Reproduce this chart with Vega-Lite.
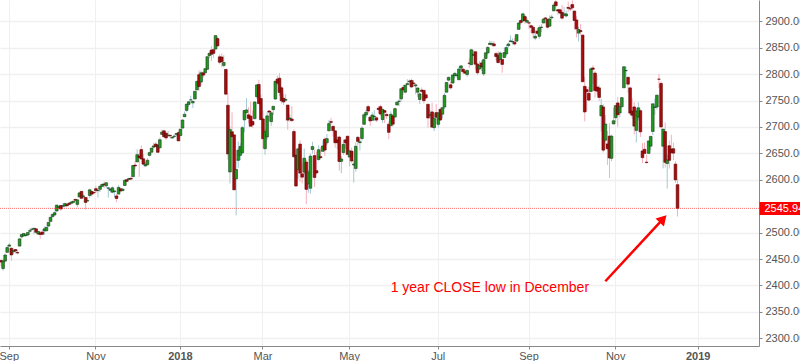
{
"$schema": "https://vega.github.io/schema/vega-lite/v6.json",
"width": 759,
"height": 346,
"autosize": "none",
"padding": {"left": 0, "top": 0, "right": 41, "bottom": 15},
"background": "#ffffff",
"config": {"view": {"stroke": null}},
"datasets": {
"ohlc": [
{"d":"2017-08-28","o":2447.35,"h":2449.12,"l":2436.19,"c":2444.24},
{"d":"2017-08-29","o":2431.94,"h":2449.19,"l":2428.20,"c":2446.30},
{"d":"2017-08-30","o":2446.06,"h":2460.31,"l":2443.77,"c":2457.59},
{"d":"2017-08-31","o":2462.65,"h":2475.01,"l":2462.65,"c":2471.65},
{"d":"2017-09-01","o":2474.42,"h":2480.38,"l":2473.85,"c":2476.55},
{"d":"2017-09-05","o":2470.35,"h":2471.97,"l":2446.55,"c":2457.85},
{"d":"2017-09-06","o":2463.83,"h":2469.64,"l":2459.20,"c":2465.54},
{"d":"2017-09-07","o":2468.06,"h":2468.62,"l":2460.29,"c":2465.10},
{"d":"2017-09-08","o":2462.25,"h":2467.11,"l":2459.40,"c":2461.43},
{"d":"2017-09-11","o":2474.52,"h":2488.95,"l":2474.52,"c":2488.11},
{"d":"2017-09-12","o":2491.94,"h":2496.77,"l":2488.72,"c":2496.48},
{"d":"2017-09-13","o":2493.89,"h":2498.37,"l":2492.14,"c":2498.37},
{"d":"2017-09-14","o":2494.56,"h":2498.43,"l":2491.35,"c":2495.62},
{"d":"2017-09-15","o":2495.67,"h":2500.23,"l":2493.16,"c":2500.23},
{"d":"2017-09-18","o":2502.51,"h":2508.32,"l":2499.92,"c":2503.87},
{"d":"2017-09-19","o":2506.29,"h":2507.84,"l":2503.19,"c":2506.65},
{"d":"2017-09-20","o":2506.84,"h":2508.85,"l":2496.67,"c":2508.24},
{"d":"2017-09-21","o":2507.16,"h":2507.16,"l":2499.00,"c":2500.60},
{"d":"2017-09-22","o":2497.26,"h":2503.47,"l":2496.54,"c":2502.22},
{"d":"2017-09-25","o":2499.39,"h":2502.54,"l":2488.03,"c":2496.66},
{"d":"2017-09-26","o":2501.04,"h":2503.51,"l":2495.12,"c":2496.84},
{"d":"2017-09-27","o":2503.30,"h":2511.75,"l":2495.91,"c":2507.04},
{"d":"2017-09-28","o":2503.41,"h":2510.81,"l":2502.93,"c":2510.06},
{"d":"2017-09-29","o":2512.40,"h":2519.44,"l":2511.30,"c":2519.36},
{"d":"2017-10-02","o":2521.20,"h":2529.23,"l":2520.40,"c":2529.12},
{"d":"2017-10-03","o":2530.34,"h":2535.13,"l":2528.85,"c":2534.58},
{"d":"2017-10-04","o":2533.48,"h":2540.53,"l":2531.80,"c":2537.74},
{"d":"2017-10-05","o":2540.86,"h":2552.51,"l":2540.02,"c":2552.07},
{"d":"2017-10-06","o":2547.44,"h":2549.41,"l":2543.79,"c":2549.33},
{"d":"2017-10-09","o":2551.39,"h":2551.82,"l":2541.60,"c":2544.73},
{"d":"2017-10-10","o":2549.99,"h":2555.23,"l":2544.86,"c":2550.64},
{"d":"2017-10-11","o":2550.62,"h":2555.24,"l":2547.95,"c":2555.24},
{"d":"2017-10-12","o":2552.88,"h":2555.33,"l":2548.31,"c":2550.93},
{"d":"2017-10-13","o":2555.66,"h":2557.65,"l":2552.09,"c":2553.17},
{"d":"2017-10-16","o":2555.57,"h":2559.47,"l":2553.24,"c":2557.64},
{"d":"2017-10-17","o":2557.17,"h":2559.71,"l":2554.69,"c":2559.36},
{"d":"2017-10-18","o":2562.87,"h":2564.11,"l":2559.67,"c":2561.26},
{"d":"2017-10-19","o":2553.39,"h":2562.36,"l":2547.92,"c":2562.10},
{"d":"2017-10-20","o":2567.56,"h":2575.44,"l":2567.56,"c":2575.21},
{"d":"2017-10-23","o":2578.08,"h":2578.29,"l":2564.33,"c":2564.98},
{"d":"2017-10-24","o":2568.66,"h":2572.18,"l":2565.58,"c":2569.13},
{"d":"2017-10-25","o":2566.52,"h":2567.40,"l":2544.00,"c":2557.15},
{"d":"2017-10-26","o":2560.08,"h":2567.07,"l":2559.80,"c":2560.40},
{"d":"2017-10-27","o":2570.26,"h":2582.98,"l":2565.94,"c":2581.07},
{"d":"2017-10-30","o":2577.75,"h":2580.03,"l":2568.25,"c":2572.83},
{"d":"2017-10-31","o":2575.99,"h":2578.29,"l":2572.15,"c":2575.26},
{"d":"2017-11-01","o":2583.21,"h":2588.40,"l":2574.92,"c":2579.36},
{"d":"2017-11-02","o":2579.46,"h":2581.11,"l":2566.17,"c":2579.85},
{"d":"2017-11-03","o":2581.93,"h":2588.42,"l":2576.77,"c":2587.84},
{"d":"2017-11-06","o":2587.47,"h":2593.38,"l":2585.66,"c":2591.13},
{"d":"2017-11-07","o":2592.11,"h":2597.02,"l":2584.35,"c":2590.64},
{"d":"2017-11-08","o":2588.71,"h":2595.47,"l":2585.02,"c":2594.38},
{"d":"2017-11-09","o":2584.00,"h":2586.50,"l":2566.33,"c":2584.62},
{"d":"2017-11-10","o":2580.18,"h":2583.81,"l":2575.57,"c":2582.30},
{"d":"2017-11-13","o":2576.53,"h":2587.66,"l":2574.48,"c":2584.84},
{"d":"2017-11-14","o":2577.75,"h":2579.66,"l":2566.56,"c":2578.87},
{"d":"2017-11-15","o":2569.45,"h":2572.84,"l":2557.45,"c":2564.62},
{"d":"2017-11-16","o":2572.95,"h":2590.09,"l":2572.95,"c":2585.64},
{"d":"2017-11-17","o":2582.94,"h":2583.96,"l":2577.62,"c":2578.85},
{"d":"2017-11-20","o":2579.49,"h":2584.64,"l":2578.24,"c":2582.14},
{"d":"2017-11-21","o":2589.17,"h":2601.19,"l":2589.17,"c":2599.03},
{"d":"2017-11-22","o":2600.31,"h":2600.94,"l":2595.23,"c":2597.08},
{"d":"2017-11-24","o":2600.42,"h":2604.21,"l":2600.42,"c":2602.42},
{"d":"2017-11-27","o":2602.66,"h":2606.41,"l":2598.87,"c":2601.42},
{"d":"2017-11-28","o":2605.94,"h":2627.69,"l":2605.44,"c":2627.04},
{"d":"2017-11-29","o":2627.82,"h":2634.89,"l":2620.32,"c":2626.07},
{"d":"2017-11-30","o":2633.93,"h":2657.74,"l":2633.93,"c":2647.58},
{"d":"2017-12-01","o":2645.10,"h":2650.62,"l":2605.52,"c":2642.22},
{"d":"2017-12-04","o":2657.19,"h":2665.19,"l":2639.03,"c":2639.44},
{"d":"2017-12-05","o":2639.78,"h":2648.72,"l":2627.73,"c":2629.57},
{"d":"2017-12-06","o":2626.24,"h":2634.41,"l":2624.75,"c":2629.27},
{"d":"2017-12-07","o":2628.38,"h":2640.99,"l":2628.38,"c":2636.98},
{"d":"2017-12-08","o":2646.21,"h":2651.65,"l":2644.10,"c":2651.50},
{"d":"2017-12-11","o":2652.19,"h":2660.33,"l":2651.47,"c":2659.99},
{"d":"2017-12-12","o":2661.73,"h":2669.72,"l":2659.78,"c":2664.11},
{"d":"2017-12-13","o":2667.59,"h":2671.88,"l":2662.85,"c":2662.85},
{"d":"2017-12-14","o":2665.87,"h":2668.09,"l":2652.01,"c":2652.01},
{"d":"2017-12-15","o":2660.63,"h":2679.63,"l":2659.14,"c":2675.81},
{"d":"2017-12-18","o":2685.92,"h":2694.97,"l":2685.92,"c":2690.16},
{"d":"2017-12-19","o":2692.71,"h":2694.44,"l":2680.74,"c":2681.47},
{"d":"2017-12-20","o":2688.18,"h":2691.01,"l":2676.11,"c":2679.25},
{"d":"2017-12-21","o":2683.02,"h":2692.64,"l":2682.40,"c":2684.57},
{"d":"2017-12-22","o":2684.22,"h":2685.35,"l":2678.13,"c":2683.34},
{"d":"2017-12-26","o":2679.09,"h":2682.74,"l":2677.96,"c":2680.50},
{"d":"2017-12-27","o":2682.10,"h":2685.64,"l":2678.91,"c":2682.62},
{"d":"2017-12-28","o":2686.10,"h":2687.66,"l":2682.69,"c":2687.54},
{"d":"2017-12-29","o":2689.15,"h":2692.12,"l":2673.61,"c":2673.61},
{"d":"2018-01-02","o":2683.73,"h":2695.89,"l":2682.36,"c":2695.81},
{"d":"2018-01-03","o":2697.85,"h":2714.37,"l":2697.77,"c":2713.06},
{"d":"2018-01-04","o":2719.31,"h":2729.29,"l":2719.07,"c":2723.99},
{"d":"2018-01-05","o":2731.33,"h":2743.45,"l":2727.92,"c":2743.15},
{"d":"2018-01-08","o":2742.67,"h":2748.51,"l":2737.60,"c":2747.71},
{"d":"2018-01-09","o":2751.15,"h":2759.14,"l":2747.86,"c":2751.29},
{"d":"2018-01-10","o":2745.55,"h":2750.80,"l":2736.06,"c":2748.23},
{"d":"2018-01-11","o":2752.97,"h":2767.56,"l":2752.78,"c":2767.56},
{"d":"2018-01-12","o":2770.18,"h":2787.85,"l":2769.64,"c":2786.24},
{"d":"2018-01-16","o":2798.96,"h":2807.54,"l":2768.64,"c":2776.42},
{"d":"2018-01-17","o":2784.99,"h":2807.04,"l":2778.38,"c":2802.56},
{"d":"2018-01-18","o":2802.40,"h":2805.83,"l":2792.56,"c":2798.03},
{"d":"2018-01-19","o":2802.60,"h":2810.33,"l":2798.08,"c":2810.30},
{"d":"2018-01-22","o":2809.16,"h":2833.03,"l":2808.12,"c":2832.97},
{"d":"2018-01-23","o":2835.05,"h":2842.24,"l":2830.59,"c":2839.13},
{"d":"2018-01-24","o":2845.42,"h":2852.97,"l":2824.81,"c":2837.54},
{"d":"2018-01-25","o":2846.24,"h":2848.56,"l":2830.94,"c":2839.25},
{"d":"2018-01-26","o":2847.48,"h":2872.87,"l":2846.18,"c":2872.87},
{"d":"2018-01-29","o":2867.23,"h":2870.62,"l":2851.48,"c":2853.53},
{"d":"2018-01-30","o":2832.74,"h":2837.75,"l":2818.27,"c":2822.43},
{"d":"2018-01-31","o":2832.41,"h":2839.26,"l":2813.04,"c":2823.81},
{"d":"2018-02-01","o":2816.45,"h":2835.96,"l":2812.70,"c":2821.98},
{"d":"2018-02-02","o":2808.92,"h":2808.92,"l":2759.97,"c":2762.13},
{"d":"2018-02-05","o":2741.06,"h":2763.39,"l":2638.17,"c":2648.94},
{"d":"2018-02-06","o":2614.78,"h":2701.04,"l":2593.07,"c":2695.14},
{"d":"2018-02-07","o":2690.95,"h":2727.67,"l":2681.33,"c":2681.66},
{"d":"2018-02-08","o":2685.01,"h":2685.27,"l":2580.56,"c":2581.00},
{"d":"2018-02-09","o":2601.78,"h":2638.67,"l":2532.69,"c":2619.55},
{"d":"2018-02-12","o":2636.75,"h":2672.61,"l":2622.45,"c":2656.00},
{"d":"2018-02-13","o":2646.27,"h":2668.84,"l":2637.08,"c":2662.94},
{"d":"2018-02-14","o":2651.21,"h":2702.10,"l":2648.87,"c":2698.63},
{"d":"2018-02-15","o":2713.46,"h":2731.51,"l":2689.82,"c":2731.20},
{"d":"2018-02-16","o":2727.14,"h":2754.42,"l":2725.11,"c":2732.22},
{"d":"2018-02-20","o":2722.99,"h":2737.60,"l":2706.76,"c":2716.26},
{"d":"2018-02-21","o":2720.53,"h":2747.75,"l":2701.29,"c":2701.33},
{"d":"2018-02-22","o":2710.42,"h":2731.26,"l":2697.77,"c":2703.96},
{"d":"2018-02-23","o":2715.80,"h":2747.76,"l":2713.74,"c":2747.30},
{"d":"2018-02-26","o":2757.37,"h":2780.64,"l":2753.78,"c":2779.60},
{"d":"2018-02-27","o":2780.45,"h":2789.15,"l":2742.10,"c":2744.28},
{"d":"2018-02-28","o":2753.78,"h":2761.52,"l":2713.54,"c":2713.83},
{"d":"2018-03-01","o":2715.22,"h":2730.89,"l":2659.65,"c":2677.67},
{"d":"2018-03-02","o":2658.89,"h":2696.25,"l":2647.32,"c":2691.25},
{"d":"2018-03-05","o":2681.06,"h":2728.09,"l":2675.75,"c":2720.94},
{"d":"2018-03-06","o":2730.18,"h":2732.08,"l":2711.26,"c":2728.12},
{"d":"2018-03-07","o":2710.18,"h":2730.60,"l":2701.74,"c":2726.80},
{"d":"2018-03-08","o":2732.75,"h":2740.45,"l":2722.65,"c":2738.97},
{"d":"2018-03-09","o":2752.91,"h":2786.57,"l":2751.54,"c":2786.57},
{"d":"2018-03-12","o":2790.54,"h":2796.98,"l":2779.26,"c":2783.02},
{"d":"2018-03-13","o":2792.31,"h":2801.90,"l":2758.68,"c":2765.31},
{"d":"2018-03-14","o":2774.06,"h":2777.11,"l":2744.38,"c":2749.48},
{"d":"2018-03-15","o":2754.27,"h":2763.03,"l":2741.47,"c":2747.33},
{"d":"2018-03-16","o":2750.57,"h":2761.85,"l":2749.97,"c":2752.01},
{"d":"2018-03-19","o":2741.38,"h":2741.38,"l":2694.59,"c":2712.92},
{"d":"2018-03-20","o":2715.05,"h":2724.22,"l":2710.05,"c":2716.94},
{"d":"2018-03-21","o":2714.99,"h":2739.14,"l":2709.79,"c":2711.93},
{"d":"2018-03-22","o":2691.36,"h":2695.68,"l":2641.59,"c":2643.69},
{"d":"2018-03-23","o":2646.71,"h":2657.67,"l":2585.89,"c":2588.26},
{"d":"2018-03-26","o":2619.35,"h":2661.36,"l":2601.81,"c":2658.55},
{"d":"2018-03-27","o":2667.57,"h":2674.78,"l":2596.12,"c":2612.62},
{"d":"2018-03-28","o":2611.30,"h":2632.65,"l":2593.06,"c":2605.00},
{"d":"2018-03-29","o":2614.41,"h":2659.07,"l":2609.72,"c":2640.87},
{"d":"2018-04-02","o":2633.45,"h":2638.30,"l":2553.80,"c":2581.88},
{"d":"2018-04-03","o":2592.17,"h":2619.14,"l":2575.49,"c":2614.45},
{"d":"2018-04-04","o":2584.04,"h":2649.86,"l":2573.61,"c":2644.69},
{"d":"2018-04-05","o":2657.36,"h":2672.08,"l":2649.58,"c":2662.84},
{"d":"2018-04-06","o":2645.82,"h":2656.88,"l":2586.27,"c":2604.47},
{"d":"2018-04-09","o":2617.18,"h":2653.55,"l":2610.79,"c":2613.16},
{"d":"2018-04-10","o":2638.41,"h":2665.45,"l":2635.78,"c":2656.87},
{"d":"2018-04-11","o":2643.69,"h":2661.43,"l":2639.25,"c":2642.19},
{"d":"2018-04-12","o":2653.83,"h":2674.72,"l":2653.83,"c":2663.99},
{"d":"2018-04-13","o":2676.90,"h":2680.26,"l":2645.05,"c":2656.30},
{"d":"2018-04-16","o":2670.10,"h":2686.49,"l":2665.16,"c":2677.84},
{"d":"2018-04-17","o":2692.74,"h":2713.34,"l":2692.05,"c":2706.39},
{"d":"2018-04-18","o":2710.11,"h":2717.49,"l":2703.63,"c":2708.64},
{"d":"2018-04-19","o":2701.16,"h":2702.84,"l":2681.90,"c":2693.13},
{"d":"2018-04-20","o":2692.56,"h":2693.94,"l":2660.61,"c":2670.14},
{"d":"2018-04-23","o":2675.40,"h":2682.86,"l":2657.99,"c":2670.29},
{"d":"2018-04-24","o":2680.80,"h":2683.55,"l":2617.32,"c":2634.56},
{"d":"2018-04-25","o":2634.92,"h":2645.30,"l":2612.67,"c":2639.40},
{"d":"2018-04-26","o":2651.65,"h":2676.48,"l":2647.16,"c":2666.94},
{"d":"2018-04-27","o":2675.47,"h":2677.35,"l":2659.01,"c":2669.91},
{"d":"2018-04-30","o":2682.51,"h":2682.87,"l":2648.04,"c":2648.05},
{"d":"2018-05-01","o":2642.96,"h":2655.27,"l":2625.41,"c":2654.80},
{"d":"2018-05-02","o":2654.24,"h":2660.87,"l":2631.70,"c":2635.67},
{"d":"2018-05-03","o":2628.08,"h":2637.14,"l":2594.62,"c":2629.73},
{"d":"2018-05-04","o":2621.45,"h":2670.93,"l":2615.32,"c":2663.42},
{"d":"2018-05-07","o":2680.34,"h":2683.35,"l":2664.70,"c":2672.63},
{"d":"2018-05-08","o":2670.26,"h":2676.34,"l":2655.20,"c":2671.92},
{"d":"2018-05-09","o":2678.12,"h":2701.27,"l":2674.14,"c":2697.79},
{"d":"2018-05-10","o":2705.02,"h":2726.11,"l":2704.54,"c":2723.07},
{"d":"2018-05-11","o":2722.70,"h":2732.86,"l":2717.45,"c":2727.72},
{"d":"2018-05-14","o":2738.47,"h":2742.10,"l":2725.47,"c":2730.13},
{"d":"2018-05-15","o":2718.59,"h":2718.59,"l":2701.91,"c":2711.45},
{"d":"2018-05-16","o":2712.62,"h":2727.76,"l":2712.17,"c":2722.46},
{"d":"2018-05-17","o":2719.71,"h":2731.96,"l":2711.36,"c":2720.13},
{"d":"2018-05-18","o":2717.35,"h":2719.50,"l":2709.18,"c":2712.97},
{"d":"2018-05-21","o":2735.39,"h":2739.19,"l":2725.70,"c":2733.01},
{"d":"2018-05-22","o":2738.34,"h":2742.24,"l":2721.88,"c":2724.44},
{"d":"2018-05-23","o":2713.98,"h":2733.33,"l":2707.38,"c":2733.29},
{"d":"2018-05-24","o":2730.94,"h":2731.97,"l":2707.38,"c":2727.76},
{"d":"2018-05-25","o":2723.60,"h":2727.36,"l":2714.99,"c":2721.33},
{"d":"2018-05-29","o":2705.11,"h":2710.67,"l":2676.81,"c":2689.86},
{"d":"2018-05-30","o":2702.43,"h":2729.34,"l":2702.43,"c":2724.01},
{"d":"2018-05-31","o":2720.98,"h":2722.50,"l":2700.68,"c":2705.27},
{"d":"2018-06-01","o":2718.70,"h":2736.93,"l":2718.70,"c":2734.62},
{"d":"2018-06-04","o":2741.67,"h":2749.16,"l":2740.54,"c":2746.87},
{"d":"2018-06-05","o":2748.46,"h":2752.61,"l":2739.51,"c":2748.80},
{"d":"2018-06-06","o":2753.25,"h":2772.39,"l":2748.46,"c":2772.35},
{"d":"2018-06-07","o":2774.84,"h":2779.90,"l":2760.16,"c":2770.37},
{"d":"2018-06-08","o":2765.84,"h":2779.39,"l":2763.59,"c":2779.03},
{"d":"2018-06-11","o":2780.18,"h":2790.21,"l":2780.17,"c":2782.00},
{"d":"2018-06-12","o":2785.60,"h":2789.80,"l":2778.78,"c":2786.85},
{"d":"2018-06-13","o":2787.94,"h":2791.47,"l":2774.65,"c":2775.63},
{"d":"2018-06-14","o":2783.21,"h":2789.06,"l":2776.52,"c":2782.49},
{"d":"2018-06-15","o":2777.78,"h":2782.81,"l":2761.73,"c":2779.66},
{"d":"2018-06-18","o":2765.79,"h":2774.99,"l":2757.12,"c":2773.75},
{"d":"2018-06-19","o":2752.01,"h":2765.05,"l":2743.19,"c":2762.59},
{"d":"2018-06-20","o":2769.73,"h":2774.86,"l":2763.91,"c":2767.32},
{"d":"2018-06-21","o":2769.28,"h":2769.28,"l":2744.39,"c":2749.76},
{"d":"2018-06-22","o":2760.79,"h":2764.17,"l":2752.68,"c":2754.88},
{"d":"2018-06-25","o":2742.94,"h":2742.94,"l":2698.67,"c":2717.07},
{"d":"2018-06-26","o":2722.12,"h":2732.91,"l":2715.60,"c":2723.06},
{"d":"2018-06-27","o":2728.45,"h":2746.09,"l":2699.38,"c":2699.63},
{"d":"2018-06-28","o":2698.69,"h":2724.34,"l":2691.99,"c":2716.31},
{"d":"2018-06-29","o":2727.13,"h":2743.26,"l":2718.03,"c":2718.37},
{"d":"2018-07-02","o":2704.95,"h":2727.26,"l":2698.95,"c":2726.71},
{"d":"2018-07-03","o":2733.27,"h":2736.58,"l":2711.16,"c":2713.22},
{"d":"2018-07-05","o":2724.19,"h":2737.83,"l":2716.02,"c":2736.61},
{"d":"2018-07-06","o":2737.68,"h":2764.41,"l":2733.52,"c":2759.82},
{"d":"2018-07-09","o":2765.79,"h":2784.65,"l":2765.79,"c":2784.17},
{"d":"2018-07-10","o":2788.56,"h":2795.58,"l":2786.24,"c":2793.84},
{"d":"2018-07-11","o":2779.82,"h":2785.91,"l":2770.77,"c":2774.02},
{"d":"2018-07-12","o":2783.14,"h":2799.22,"l":2781.53,"c":2798.29},
{"d":"2018-07-13","o":2796.93,"h":2804.53,"l":2791.69,"c":2801.31},
{"d":"2018-07-16","o":2797.36,"h":2801.19,"l":2793.39,"c":2798.43},
{"d":"2018-07-17","o":2789.34,"h":2814.19,"l":2789.24,"c":2809.55},
{"d":"2018-07-18","o":2811.35,"h":2816.76,"l":2805.89,"c":2815.62},
{"d":"2018-07-19","o":2809.37,"h":2812.05,"l":2799.77,"c":2804.49},
{"d":"2018-07-20","o":2804.55,"h":2809.70,"l":2800.01,"c":2801.83},
{"d":"2018-07-23","o":2799.17,"h":2808.61,"l":2795.14,"c":2806.98},
{"d":"2018-07-24","o":2820.68,"h":2829.99,"l":2811.12,"c":2820.40},
{"d":"2018-07-25","o":2817.73,"h":2848.03,"l":2817.73,"c":2846.07},
{"d":"2018-07-26","o":2835.49,"h":2845.57,"l":2835.26,"c":2837.44},
{"d":"2018-07-27","o":2842.35,"h":2843.17,"l":2808.34,"c":2818.82},
{"d":"2018-07-30","o":2819.00,"h":2821.74,"l":2798.11,"c":2802.60},
{"d":"2018-07-31","o":2809.73,"h":2824.46,"l":2808.06,"c":2816.29},
{"d":"2018-08-01","o":2821.17,"h":2825.83,"l":2805.85,"c":2813.36},
{"d":"2018-08-02","o":2800.48,"h":2829.91,"l":2796.34,"c":2827.22},
{"d":"2018-08-03","o":2829.62,"h":2840.38,"l":2827.37,"c":2840.35},
{"d":"2018-08-06","o":2840.29,"h":2853.29,"l":2835.98,"c":2850.40},
{"d":"2018-08-07","o":2855.92,"h":2863.43,"l":2855.92,"c":2858.45},
{"d":"2018-08-08","o":2856.79,"h":2862.44,"l":2853.09,"c":2857.70},
{"d":"2018-08-09","o":2857.19,"h":2862.48,"l":2851.98,"c":2853.58},
{"d":"2018-08-10","o":2838.90,"h":2842.20,"l":2825.81,"c":2833.28},
{"d":"2018-08-13","o":2835.46,"h":2843.40,"l":2819.88,"c":2821.93},
{"d":"2018-08-14","o":2827.88,"h":2843.11,"l":2826.58,"c":2839.96},
{"d":"2018-08-15","o":2827.95,"h":2827.95,"l":2802.49,"c":2818.37},
{"d":"2018-08-16","o":2831.44,"h":2850.49,"l":2831.44,"c":2840.69},
{"d":"2018-08-17","o":2838.32,"h":2855.63,"l":2833.73,"c":2850.13},
{"d":"2018-08-20","o":2853.93,"h":2859.76,"l":2850.62,"c":2857.05},
{"d":"2018-08-21","o":2861.51,"h":2873.23,"l":2861.32,"c":2862.96},
{"d":"2018-08-22","o":2860.99,"h":2867.54,"l":2856.05,"c":2861.82},
{"d":"2018-08-23","o":2860.29,"h":2868.78,"l":2854.03,"c":2856.98},
{"d":"2018-08-24","o":2862.35,"h":2876.16,"l":2862.35,"c":2874.69},
{"d":"2018-08-27","o":2884.69,"h":2898.25,"l":2884.69,"c":2896.74},
{"d":"2018-08-28","o":2901.45,"h":2903.77,"l":2893.50,"c":2897.52},
{"d":"2018-08-29","o":2900.62,"h":2916.50,"l":2898.40,"c":2914.04},
{"d":"2018-08-30","o":2908.94,"h":2912.46,"l":2895.22,"c":2901.13},
{"d":"2018-08-31","o":2898.37,"h":2906.32,"l":2895.77,"c":2901.52},
{"d":"2018-09-04","o":2896.96,"h":2900.18,"l":2885.13,"c":2896.72},
{"d":"2018-09-05","o":2891.59,"h":2894.21,"l":2876.92,"c":2888.60},
{"d":"2018-09-06","o":2888.64,"h":2892.05,"l":2867.29,"c":2878.05},
{"d":"2018-09-07","o":2868.26,"h":2883.81,"l":2864.12,"c":2871.68},
{"d":"2018-09-10","o":2881.39,"h":2886.93,"l":2875.94,"c":2877.13},
{"d":"2018-09-11","o":2871.57,"h":2892.52,"l":2866.78,"c":2887.89},
{"d":"2018-09-12","o":2888.29,"h":2894.65,"l":2879.20,"c":2888.92},
{"d":"2018-09-13","o":2896.85,"h":2906.76,"l":2896.39,"c":2904.18},
{"d":"2018-09-14","o":2906.38,"h":2908.30,"l":2895.77,"c":2904.98},
{"d":"2018-09-17","o":2903.83,"h":2904.65,"l":2886.16,"c":2888.80},
{"d":"2018-09-18","o":2890.74,"h":2911.17,"l":2890.43,"c":2904.31},
{"d":"2018-09-19","o":2906.60,"h":2912.36,"l":2903.82,"c":2907.95},
{"d":"2018-09-20","o":2919.73,"h":2934.80,"l":2919.73,"c":2930.75},
{"d":"2018-09-21","o":2936.76,"h":2940.91,"l":2927.11,"c":2929.67},
{"d":"2018-09-24","o":2921.83,"h":2923.79,"l":2912.63,"c":2919.37},
{"d":"2018-09-25","o":2921.75,"h":2923.95,"l":2913.70,"c":2915.56},
{"d":"2018-09-26","o":2916.98,"h":2931.15,"l":2903.28,"c":2905.97},
{"d":"2018-09-27","o":2911.65,"h":2927.22,"l":2909.27,"c":2914.00},
{"d":"2018-09-28","o":2910.03,"h":2920.53,"l":2907.50,"c":2913.98},
{"d":"2018-10-01","o":2926.29,"h":2937.06,"l":2917.91,"c":2924.59},
{"d":"2018-10-02","o":2923.80,"h":2931.42,"l":2919.37,"c":2923.43},
{"d":"2018-10-03","o":2931.69,"h":2939.86,"l":2921.36,"c":2925.51},
{"d":"2018-10-04","o":2919.35,"h":2919.78,"l":2883.92,"c":2901.61},
{"d":"2018-10-05","o":2902.54,"h":2909.64,"l":2869.29,"c":2885.57},
{"d":"2018-10-08","o":2877.53,"h":2889.45,"l":2862.08,"c":2884.43},
{"d":"2018-10-09","o":2882.51,"h":2894.83,"l":2874.27,"c":2880.34},
{"d":"2018-10-10","o":2873.90,"h":2874.02,"l":2784.86,"c":2785.68},
{"d":"2018-10-11","o":2776.87,"h":2795.14,"l":2710.51,"c":2728.37},
{"d":"2018-10-12","o":2770.54,"h":2775.77,"l":2729.44,"c":2767.13},
{"d":"2018-10-15","o":2763.83,"h":2775.99,"l":2749.03,"c":2750.79},
{"d":"2018-10-16","o":2767.05,"h":2813.46,"l":2766.91,"c":2809.92},
{"d":"2018-10-17","o":2811.67,"h":2816.94,"l":2781.81,"c":2809.21},
{"d":"2018-10-18","o":2802.00,"h":2806.04,"l":2755.18,"c":2768.78},
{"d":"2018-10-19","o":2775.66,"h":2797.77,"l":2760.27,"c":2767.78},
{"d":"2018-10-22","o":2773.94,"h":2778.94,"l":2749.22,"c":2755.88},
{"d":"2018-10-23","o":2721.03,"h":2753.59,"l":2691.43,"c":2740.69},
{"d":"2018-10-24","o":2737.87,"h":2742.59,"l":2651.89,"c":2656.10},
{"d":"2018-10-25","o":2674.88,"h":2722.70,"l":2667.84,"c":2705.57},
{"d":"2018-10-26","o":2667.86,"h":2692.38,"l":2628.16,"c":2658.69},
{"d":"2018-10-29","o":2682.65,"h":2706.85,"l":2603.54,"c":2641.25},
{"d":"2018-10-30","o":2640.68,"h":2685.43,"l":2635.34,"c":2682.63},
{"d":"2018-10-31","o":2705.60,"h":2736.69,"l":2705.60,"c":2711.74},
{"d":"2018-11-01","o":2717.58,"h":2741.67,"l":2708.85,"c":2740.37},
{"d":"2018-11-02","o":2745.45,"h":2756.55,"l":2700.44,"c":2723.06},
{"d":"2018-11-05","o":2726.37,"h":2744.27,"l":2717.94,"c":2738.31},
{"d":"2018-11-06","o":2738.40,"h":2756.82,"l":2737.08,"c":2755.45},
{"d":"2018-11-07","o":2774.13,"h":2815.15,"l":2774.13,"c":2813.89},
{"d":"2018-11-08","o":2806.38,"h":2814.75,"l":2794.99,"c":2806.83},
{"d":"2018-11-09","o":2794.10,"h":2794.10,"l":2764.24,"c":2781.01},
{"d":"2018-11-12","o":2773.93,"h":2775.99,"l":2722.00,"c":2726.22},
{"d":"2018-11-13","o":2730.05,"h":2754.60,"l":2714.98,"c":2722.18},
{"d":"2018-11-14","o":2737.90,"h":2746.80,"l":2685.75,"c":2701.58},
{"d":"2018-11-15","o":2693.52,"h":2735.38,"l":2670.75,"c":2730.20},
{"d":"2018-11-16","o":2718.54,"h":2746.75,"l":2712.16,"c":2736.27},
{"d":"2018-11-19","o":2730.74,"h":2733.16,"l":2681.09,"c":2690.73},
{"d":"2018-11-20","o":2654.60,"h":2669.44,"l":2631.52,"c":2641.89},
{"d":"2018-11-21","o":2657.74,"h":2670.73,"l":2649.82,"c":2649.93},
{"d":"2018-11-23","o":2633.36,"h":2647.55,"l":2631.09,"c":2632.56},
{"d":"2018-11-26","o":2649.97,"h":2674.35,"l":2649.97,"c":2673.45},
{"d":"2018-11-27","o":2663.75,"h":2682.53,"l":2655.89,"c":2682.17},
{"d":"2018-11-28","o":2691.45,"h":2744.00,"l":2684.38,"c":2743.79},
{"d":"2018-11-29","o":2736.97,"h":2753.75,"l":2722.94,"c":2737.80},
{"d":"2018-11-30","o":2737.76,"h":2760.88,"l":2732.76,"c":2760.17},
{"d":"2018-12-03","o":2790.50,"h":2800.18,"l":2773.38,"c":2790.37},
{"d":"2018-12-04","o":2782.43,"h":2785.93,"l":2697.18,"c":2700.06},
{"d":"2018-12-06","o":2663.51,"h":2696.15,"l":2621.53,"c":2695.95},
{"d":"2018-12-07","o":2691.26,"h":2708.54,"l":2623.14,"c":2633.08},
{"d":"2018-12-10","o":2630.86,"h":2647.51,"l":2583.23,"c":2637.72},
{"d":"2018-12-11","o":2664.44,"h":2674.35,"l":2621.30,"c":2636.78},
{"d":"2018-12-12","o":2658.23,"h":2685.44,"l":2650.26,"c":2651.07},
{"d":"2018-12-13","o":2658.70,"h":2670.19,"l":2637.27,"c":2650.54},
{"d":"2018-12-14","o":2629.68,"h":2635.07,"l":2593.84,"c":2599.95},
{"d":"2018-12-17","o":2590.75,"h":2601.13,"l":2530.54,"c":2545.94}
],
"level": [{"level": 2545.94}],
"arrow": [{"d1": "2018-10-25", "p1": 2408.0, "d2": "2018-12-06", "p2": 2526.0}],
"note": [{"d": "2018-08-07", "p": 2394.6, "label": "1 year CLOSE low in December"}]
},
"resolve": {"axis": {"y": "independent"}},
"layer": [
{
"data": {"name": "ohlc"},
"mark": {"type": "rule", "strokeWidth": 1, "clip": true},
"encoding": {
"x": {"field": "d", "type": "ordinal",
"scale": {"domain": {"unionWith": ["2018-12-18","2018-12-19","2018-12-20","2018-12-21","2018-12-24","2018-12-26","2018-12-27","2018-12-28","2018-12-31","2019-01-02","2019-01-03","2019-01-04","2019-01-07","2019-01-08","2019-01-09","2019-01-10","2019-01-11","2019-01-14","2019-01-15","2019-01-16","2019-01-17","2019-01-18","2019-01-22","2019-01-23","2019-01-24","2019-01-25","2019-01-28","2019-01-29","2019-01-30","2019-01-31","2019-02-01","2019-02-04","2019-02-05","2019-02-06","2019-02-07","2019-02-08","2019-02-11","2019-02-12","2019-02-13"]}, "paddingInner": 0, "paddingOuter": 0},
"axis": {"title": null, "values": ["2017-09-01","2017-11-01","2018-01-02","2018-03-01","2018-05-01","2018-07-02","2018-09-04","2018-11-01","2019-01-02"],
"labelExpr": "utcFormat(toDate(datum.value), utcmonth(toDate(datum.value)) == 0 ? '%Y' : '%b')",
"labelFontWeight": {"condition": {"test": "utcmonth(toDate(datum.value)) == 0", "value": "bold"}, "value": "normal"},
"labelAngle": 0, "labelFont": "Liberation Sans", "labelFontSize": 11, "labelColor": "#555555", "labelPadding": 1,
"grid": true, "gridColor": "#f0f0f0", "gridWidth": 1, "tickSize": 3, "tickColor": "#888888", "domainColor": "#888888", "bandPosition": 0.5, "labelOverlap": false}},
"y": {"field": "l", "type": "quantitative",
"scale": {"domain": [2285.4, 2940.3], "nice": false, "zero": false},
"axis": {"orient": "right", "title": null, "values": [2300,2350,2400,2450,2500,2600,2650,2700,2750,2800,2850,2900], "format": ".2f",
"labelFont": "Liberation Sans", "labelFontSize": 11, "labelColor": "#555555", "labelPadding": 3,
"grid": true, "gridColor": "#f0f0f0", "gridWidth": 1.5, "tickSize": 3, "tickColor": "#888888", "domainColor": "#888888"}},
"y2": {"field": "h"},
"color": {"condition": {"test": "datum.c >= datum.o", "value": "#a3c9d3"}, "value": "#f5b0bd"}
}
},
{
"data": {"name": "ohlc"},
"mark": {"type": "bar", "width": {"band": 1.3}, "strokeWidth": 0.6, "clip": true},
"encoding": {
"x": {"field": "d", "type": "ordinal"},
"y": {"field": "o", "type": "quantitative", "axis": null},
"y2": {"field": "c"},
"fill": {"condition": {"test": "datum.c >= datum.o", "value": "#1f9a1f"}, "value": "#a80d0d"},
"stroke": {"condition": {"test": "datum.c >= datum.o", "value": "#1c3a1c"}, "value": "#5a0000"}
}
},
{
"data": {"name": "level"},
"mark": {"type": "rule", "color": "#ff3030", "opacity": 0.7, "strokeWidth": 1, "strokeDash": [1, 1]},
"encoding": {
"y": {"field": "level", "type": "quantitative",
"axis": {"orient": "right", "title": null, "values": [2545.94], "format": ".2f", "domain": false, "grid": false,
"tickSize": 41, "tickWidth": 13, "tickColor": "#ff0000", "labelColor": "#ffffff", "labelFont": "Liberation Sans", "labelFontSize": 11,
"labelPadding": -36, "zindex": 3}}
}
},
{
"data": {"name": "arrow"},
"mark": {"type": "rule", "color": "#ff0000", "strokeWidth": 2.5},
"encoding": {
"x": {"field": "d1", "type": "ordinal"},
"x2": {"field": "d2"},
"y": {"field": "p1", "type": "quantitative", "axis": null},
"y2": {"field": "p2"}
}
},
{
"data": {"name": "arrow"},
"mark": {"type": "point", "shape": "triangle-up", "filled": true, "color": "#ff0000", "opacity": 1, "size": 130, "angle": 43},
"encoding": {
"x": {"field": "d2", "type": "ordinal"},
"y": {"field": "p2", "type": "quantitative", "axis": null}
}
},
{
"data": {"name": "note"},
"mark": {"type": "text", "color": "#ff0000", "font": "Liberation Sans", "fontSize": 14, "align": "center", "baseline": "middle"},
"encoding": {
"x": {"field": "d", "type": "ordinal"},
"y": {"field": "p", "type": "quantitative", "axis": null},
"text": {"field": "label"}
}
}
]
}
